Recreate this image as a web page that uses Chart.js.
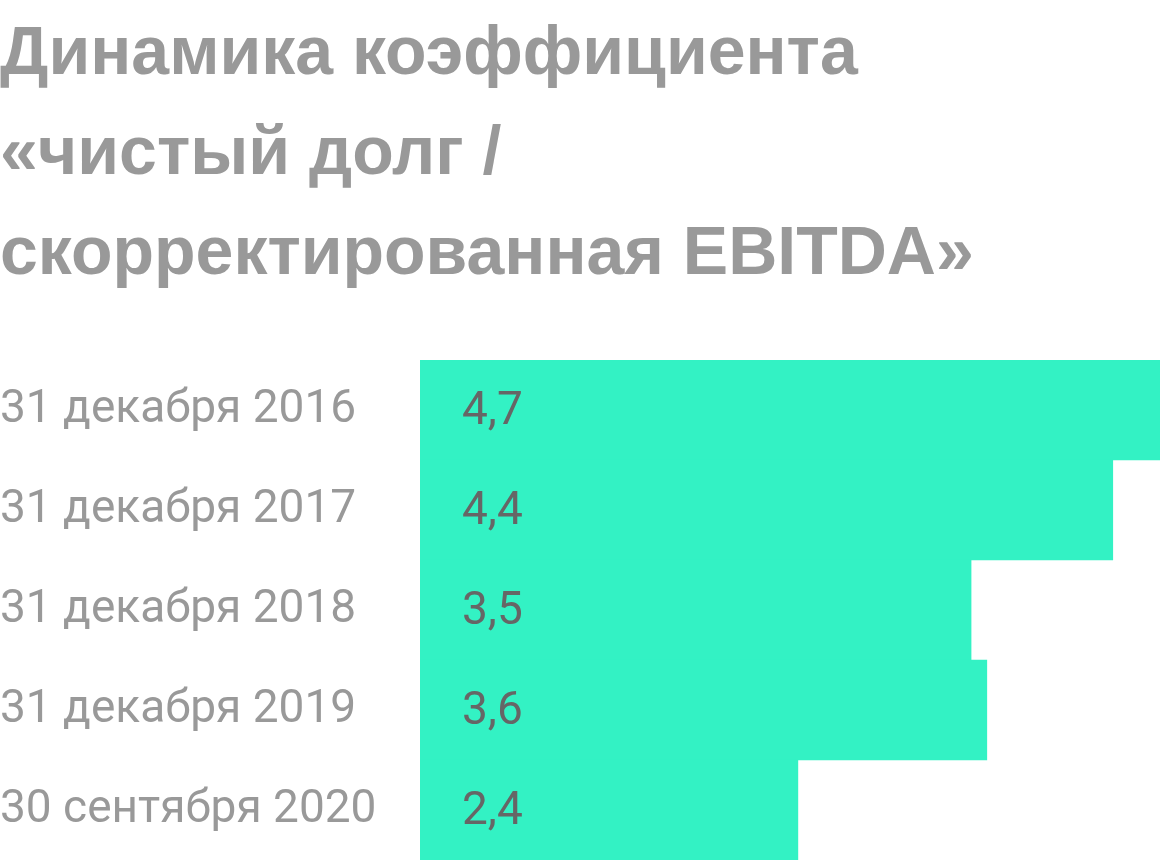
<!DOCTYPE html>
<html lang="ru">
<head>
<meta charset="utf-8">
<title>Динамика коэффициента</title>
<script src="https://cdn.jsdelivr.net/npm/chart.js@4"></script>
<style>
  html, body { margin: 0; padding: 0; width: 1160px; height: 860px; overflow: hidden; background: #fff; }
  #title {
    position: absolute; left: 0; top: 0;
    font-family: "Liberation Sans", Arial, sans-serif;
    font-weight: 700; font-size: 68px; line-height: 100px;
    color: #999;
  }
  #wrap { position: absolute; left: 0; top: 360px; width: 1160px; height: 500px; }
</style>
</head>
<body>
<div id="title">Динамика коэффициента<br>«чистый долг /<br>скорректированная EBITDA»</div>
<div id="wrap"><canvas id="ratioChart"></canvas></div>
<script>
// Data
const periods = ['31 декабря 2016', '31 декабря 2017', '31 декабря 2018', '31 декабря 2019', '30 сентября 2020'];
const ratios = [4.7, 4.4, 3.5, 3.6, 2.4];

// writes the value inside each bar, near its left end
const valueLabels = {
    id: 'valueLabels',
    afterDatasetsDraw(chart) {
        const ctx = chart.ctx;
        const meta = chart.getDatasetMeta(0);
        const x0 = chart.scales.x.getPixelForValue(0);
        ctx.save();
        ctx.font = '46px Roboto, "Noto Sans", sans-serif';
        ctx.fillStyle = '#666';
        ctx.textAlign = 'left';
        ctx.textBaseline = 'middle';
        meta.data.forEach((bar, i) => {
            ctx.fillText(ratios[i].toFixed(1).replace('.', ','), x0 + 42, bar.y + 2);
        });
        ctx.restore();
    }
};

document.addEventListener("DOMContentLoaded", () => {
    const ctx = document.getElementById('ratioChart').getContext('2d');
    new Chart(ctx, {
        type: 'bar',
        data: {
            labels: periods,
            datasets: [{
                data: ratios,
                backgroundColor: '#33f2c4',
                borderWidth: 0,
                barPercentage: 1,
                categoryPercentage: 1
            }]
        },
        options: {
            indexAxis: 'y',
            responsive: true,
            maintainAspectRatio: false,
            animation: false,
            layout: { padding: 0 },
            scales: {
                x: { display: false, min: 0, max: 4.7 },
                y: {
                    grid: { display: false, drawTicks: false },
                    border: { display: false },
                    ticks: {
                        crossAlign: 'far',
                        padding: 0,
                        color: '#999',
                        font: { family: 'Roboto, "Noto Sans", sans-serif', size: 46 }
                    },
                    afterFit(scale) {
                        // fixed label column, no extra room above/below the bars
                        scale.width = 420;
                        scale.paddingTop = 0;
                        scale.paddingBottom = 0;
                    }
                }
            },
            plugins: {
                legend: { display: false },
                tooltip: { enabled: false }
            }
        },
        plugins: [valueLabels]
    });
});
</script>
</body>
</html>
